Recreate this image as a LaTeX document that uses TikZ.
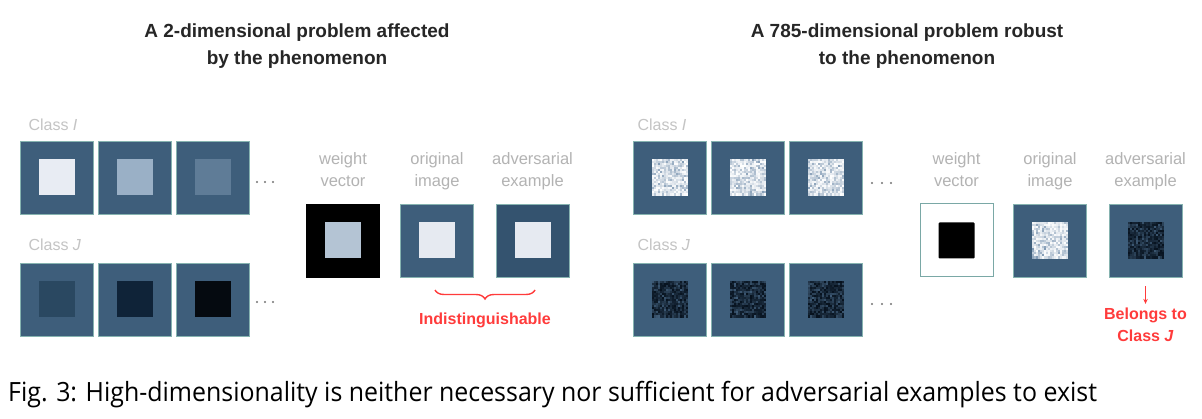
\documentclass[tikz,border=0pt]{standalone}
\usepackage{fontspec}
\setmainfont{Liberation Sans}
\newfontfamily\capfont{Open Sans}
\usepackage{tikz}
\usepackage{xcolor}
\usetikzlibrary{arrows.meta,positioning,decorations.pathreplacing}
\definecolor{boxblue}{HTML}{3E5E7B}
\definecolor{boxdark}{HTML}{34536F}
\definecolor{boxedge}{HTML}{86B3B0}
\definecolor{wedge}{HTML}{7AA8A6}
\definecolor{lbl}{HTML}{B3B3B3}
\definecolor{clbl}{HTML}{C4C4C4}
\definecolor{alert}{HTML}{FF3B3B}
\definecolor{noiseA}{HTML}{5F7FA0}
\definecolor{noiseB}{HTML}{06111D}
\definecolor{noiseC}{HTML}{5A7FA2}
\definecolor{gI1}{HTML}{E8ECF3}
\definecolor{gI2}{HTML}{9AB0C6}
\definecolor{gI3}{HTML}{5F7C97}
\definecolor{gJ1}{HTML}{2A4861}
\definecolor{gJ2}{HTML}{0F2338}
\definecolor{gJ3}{HTML}{050A10}
\definecolor{gwv}{HTML}{B4C4D4}
\definecolor{gorig}{HTML}{E6EAF1}

\tikzset{
  imgbox/.style={minimum size=73pt, inner sep=0pt, fill=boxblue, draw=boxedge, line width=0.8pt},
  patch/.style={minimum size=36pt, inner sep=0pt},
  lbltext/.style={text=lbl, font=\fontsize{16.5}{20}\selectfont, anchor=base},
  classlbl/.style={text=clbl, font=\fontsize{16}{20}\selectfont, anchor=base west},
  titletext/.style={text=black!85, font=\bfseries\fontsize{19}{24}\selectfont, anchor=base},
  redtext/.style={text=alert, font=\bfseries\fontsize{16}{20}\selectfont, anchor=base}
}

% random speckle inside a box
\newcommand{\speckle}[4]{%
  \begin{scope}[shift={(#1.center)}]
  \foreach \i in {0,...,17}{\foreach \j in {0,...,17}{
    \pgfmathtruncatemacro\mixval{#4+(100-#4)*sqrt(rnd)}
    \fill[#2!\mixval!#3] ({-18+2*\i},{-18+2*\j}) rectangle ++(2.1,2.1);
  }}
  \end{scope}}

\begin{document}
\begin{tikzpicture}[x=1pt,y=-1pt]
\useasboundingbox[fill=white] (0,0) rectangle (1202,419);
\pgfmathsetseed{4217}

% titles
\node[titletext] (lt1) at (297,38) {A 2-dimensional problem affected};
\node[titletext] (lt2) at (297,65) {by the phenomenon};
\node[titletext] (rt1) at (907,38) {A 785-dimensional problem robust};
\node[titletext] (rt2) at (907,65) {to the phenomenon};

%% left panel
\node[classlbl] (lcI) at (25,131) {Class \textit{I}};
\node[classlbl] (lcJ) at (25,251) {Class \textit{J}};
\node[imgbox] (lI1) at (56.5,177.5) {};
\node[imgbox] (lI2) at (135,177.5) {};
\node[imgbox] (lI3) at (213,177.5) {};
\node[imgbox] (lJ1) at (56.5,299.5) {};
\node[imgbox] (lJ2) at (135,299.5) {};
\node[imgbox] (lJ3) at (213,299.5) {};
\node[patch, fill=gI1] at (lI1) {};
\node[patch, fill=gI2] at (lI2) {};
\node[patch, fill=gI3] at (lI3) {};
\node[patch, fill=gJ1] at (lJ1) {};
\node[patch, fill=gJ2] at (lJ2) {};
\node[patch, fill=gJ3] at (lJ3) {};
\foreach \x in {257,265,273}{
  \fill[black!55] (\x,182) circle (1.1);
  \fill[black!55] (\x,302) circle (1.1);
}

\node[lbltext] (lw1) at (343,165) {weight};
\node[lbltext] (lw2) at (343,187) {vector};
\node[lbltext] (lo1) at (437,165) {original};
\node[lbltext] (lo2) at (437,187) {image};
\node[lbltext] (la1) at (532.5,165) {adversarial};
\node[lbltext] (la2) at (532.5,187) {example};
\node[imgbox, fill=black, draw=black] (lw) at (343,240.5) {};
\node[imgbox] (lo) at (437,240.5) {};
\node[imgbox, fill=boxdark] (la) at (532.5,240.5) {};
\node[patch, fill=gwv] at (lw) {};
\node[patch, fill=gorig] at (lo) {};
\node[patch, fill=gorig] at (la) {};
\coordinate (brL) at (435,290);
\coordinate (brR) at (535,290);
\draw[alert, line width=1.4pt, decorate, decoration={brace, mirror, amplitude=9pt}] (brL) -- (brR);
\node[redtext] (indist) at (485,325) {Indistinguishable};

%% right panel
\node[classlbl] (rcI) at (634,131) {Class \textit{I}};
\node[classlbl] (rcJ) at (634,251) {Class \textit{J}};
\node[imgbox] (rI1) at (669.5,177.5) {};
\node[imgbox] (rI2) at (748,177.5) {};
\node[imgbox] (rI3) at (825.5,177.5) {};
\node[imgbox] (rJ1) at (669.5,299.5) {};
\node[imgbox] (rJ2) at (748,299.5) {};
\node[imgbox] (rJ3) at (825.5,299.5) {};
\speckle{rI1}{white}{noiseA}{20}
\speckle{rI2}{white}{noiseA}{20}
\speckle{rI3}{white}{noiseA}{20}
\speckle{rJ1}{noiseB}{noiseC}{30}
\speckle{rJ2}{noiseB}{noiseC}{30}
\speckle{rJ3}{noiseB}{noiseC}{30}
\foreach \x in {872,882,891}{
  \fill[black!55] (\x,183) circle (1.1);
  \fill[black!55] (\x,304) circle (1.1);
}

\node[lbltext] (rw1) at (956.5,165) {weight};
\node[lbltext] (rw2) at (956.5,187) {vector};
\node[lbltext] (ro1) at (1050,165) {original};
\node[lbltext] (ro2) at (1050,187) {image};
\node[lbltext] (ra1) at (1145.5,165) {adversarial};
\node[lbltext] (ra2) at (1145.5,187) {example};
\node[imgbox, fill=white, draw=wedge, line width=1pt] (rw) at (956.5,240.5) {};
\node[imgbox] (ro) at (1050,240.5) {};
\node[imgbox] (ra) at (1145.5,240.5) {};
\node[patch, fill=black, rounded corners=1pt] at (rw) {};
\speckle{ro}{white}{noiseA}{20}
\speckle{ra}{noiseB}{noiseC}{30}
\node[redtext] (bel1) at (1145.5,320) {Belongs to};
\node[redtext] (bel2) at (1145.5,342) {Class \textit{J}};
\draw[alert, line width=1.1pt, -{Stealth[length=5pt,width=4.5pt]}, shorten <=9pt, shorten >=1pt] (ra.south) -- (bel1.north);

% caption
\node[anchor=base west, inner sep=0pt] (cap) at (8,402)
  {\scalebox{0.94}[1]{\capfont\fontsize{26.5}{30}\selectfont Fig. 3: High-dimensionality is neither necessary nor sufficient for adversarial examples to exist}};
\end{tikzpicture}
\end{document}
